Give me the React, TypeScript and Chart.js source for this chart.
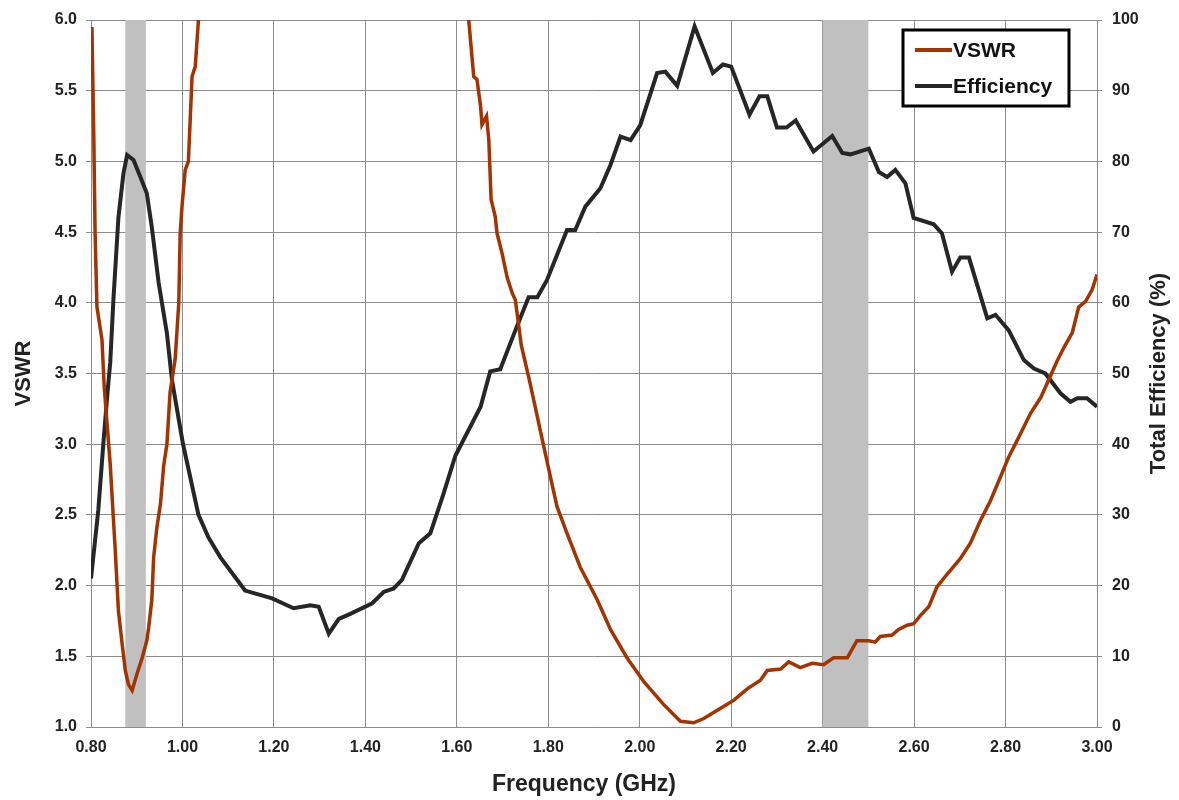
import React, { useEffect, useRef } from "react";
import { Chart, registerables } from "chart.js";

Chart.register(...registerables);

// ---- Data ----
const X_TICKS = [0.8, 1.0, 1.2, 1.4, 1.6, 1.8, 2.0, 2.2, 2.4, 2.6, 2.8, 3.0];
const VSWR_TICKS = [1.0, 1.5, 2.0, 2.5, 3.0, 3.5, 4.0, 4.5, 5.0, 5.5, 6.0];
const EFF_TICKS = [0, 10, 20, 30, 40, 50, 60, 70, 80, 90, 100];

const BAND_START = [0.875, 2.4];
const BAND_END = [0.92, 2.5];

const SERIES_LABELS = ["VSWR", "Efficiency"];

const VSWR_FREQ = [
  0.802, 0.806, 0.809, 0.813, 0.824, 0.829, 0.842, 0.853, 0.86, 0.868, 0.875, 0.882, 0.89, 0.901, 0.912,
  0.922, 0.926, 0.933, 0.937, 0.944, 0.952, 0.959, 0.966, 0.973, 0.984, 0.992, 0.995, 0.999, 1.006, 1.013,
  1.021, 1.028, 1.035, 1.045,
  1.3,
  1.615, 1.626, 1.637, 1.644, 1.652, 1.655, 1.665, 1.67, 1.675, 1.684, 1.688, 1.699, 1.71, 1.721, 1.728,
  1.741, 1.761, 1.789, 1.804, 1.819, 1.841, 1.87, 1.907, 1.936, 1.972, 2.009, 2.052, 2.089, 2.118, 2.14,
  2.176, 2.206, 2.235, 2.264, 2.279, 2.308, 2.326, 2.351, 2.377, 2.402, 2.424, 2.454, 2.475, 2.501, 2.515,
  2.526, 2.552, 2.566, 2.585, 2.599, 2.614, 2.632, 2.65, 2.672, 2.701, 2.723, 2.745, 2.767, 2.789, 2.807,
  2.829, 2.855, 2.877, 2.898, 2.913, 2.927, 2.946, 2.96, 2.975, 2.989, 3.0,
];
const VSWR_VALUES = [
  5.95, 5.2, 4.49, 3.97, 3.74, 3.4, 2.86, 2.25, 1.82, 1.59, 1.4, 1.3, 1.26, 1.38, 1.49,
  1.61, 1.7, 1.9, 2.2, 2.41, 2.58, 2.85, 3.0, 3.37, 3.6, 4.0, 4.49, 4.68, 4.94, 5.0,
  5.6, 5.67, 6.0, 6.6,
  null,
  6.6, 6.0, 5.6, 5.58, 5.39, 5.26, 5.32, 5.15, 4.73, 4.61, 4.49, 4.35, 4.18, 4.07, 4.02,
  3.7, 3.42, 3.0, 2.78, 2.56, 2.37, 2.13, 1.9, 1.69, 1.49, 1.32, 1.16, 1.04, 1.03, 1.06,
  1.13, 1.19, 1.27, 1.33, 1.4, 1.41, 1.46, 1.42, 1.45, 1.44, 1.49, 1.49, 1.61, 1.61, 1.6,
  1.64, 1.65, 1.69, 1.72, 1.73, 1.79, 1.85, 1.99, 2.08, 2.19, 2.3, 2.46, 2.6, 2.77, 2.91,
  3.05, 3.22, 3.33, 3.48, 3.59, 3.68, 3.79, 3.97, 4.01, 4.09, 4.2,
];

const EFF_FREQ = [
  0.8, 0.816, 0.827, 0.836, 0.842, 0.849, 0.86, 0.871, 0.879, 0.893, 0.908, 0.922, 0.933, 0.948, 0.966,
  0.977, 1.001, 1.035, 1.057, 1.083, 1.137, 1.196, 1.243, 1.28, 1.298, 1.32, 1.342, 1.367, 1.415, 1.44,
  1.462, 1.48, 1.517, 1.542, 1.571, 1.597, 1.652, 1.673, 1.695, 1.728, 1.757, 1.776, 1.797, 1.841, 1.859,
  1.881, 1.914, 1.936, 1.958, 1.98, 2.001, 2.038, 2.056, 2.082, 2.12, 2.16, 2.182, 2.2, 2.24, 2.262,
  2.279, 2.3, 2.321, 2.341, 2.38, 2.421, 2.443, 2.461, 2.501, 2.523, 2.541, 2.559, 2.581, 2.599, 2.643,
  2.661, 2.683, 2.701, 2.72, 2.76, 2.778, 2.807, 2.84, 2.862, 2.887, 2.92, 2.942, 2.957, 2.978, 3.0,
];
const EFF_VALUES = [
  21.0, 30.7, 40.1, 47.2, 51.5, 60.4, 72.1, 78.3, 80.9, 80.2, 77.8, 75.5, 70.7, 62.8, 55.7,
  49.1, 40.1, 30.0, 26.8, 24.0, 19.3, 18.2, 16.8, 17.2, 17.0, 13.2, 15.3, 16.0, 17.5, 19.1,
  19.6, 20.8, 26.0, 27.4, 33.0, 38.4, 45.3, 50.3, 50.6, 56.1, 60.8, 60.8, 63.2, 70.3, 70.3,
  73.6, 76.2, 79.5, 83.5, 83.0, 85.1, 92.5, 92.7, 90.7, 99.1, 92.5, 93.7, 93.4, 86.6, 89.2,
  89.2, 84.8, 84.8, 85.8, 81.4, 83.6, 81.2, 81.0, 81.8, 78.5, 77.8, 78.8, 76.9, 72.0, 71.1,
  69.8, 64.4, 66.4, 66.4, 57.8, 58.3, 56.1, 51.9, 50.7, 50.0, 47.2, 46.0, 46.5, 46.5, 45.3,
];

// ---- Styles ----
const FONT = "'Liberation Sans', Arial, sans-serif";
const VSWR_COLOR = "#a33300";
const EFF_COLOR = "#262626";
const GRID_COLOR = "#8c8c8c";
const TEXT_COLOR = "#222222";
const BAND_COLOR = "#c0c0c0";

const bandPlugin = {
  id: "bands",
  beforeDatasetsDraw(chart: any) {
    const { ctx, chartArea, scales } = chart;
    const x = scales.x;
    ctx.save();
    ctx.fillStyle = BAND_COLOR;
    BAND_START.forEach((s, i) => {
      const x0 = x.getPixelForValue(s);
      const x1 = x.getPixelForValue(BAND_END[i]);
      ctx.fillRect(x0, chartArea.top, x1 - x0, chartArea.bottom - chartArea.top);
    });
    ctx.restore();
  },
};

const titlesPlugin = {
  id: "axisTitles",
  afterDraw(chart: any) {
    const { ctx, chartArea } = chart;
    const midY = (chartArea.top + chartArea.bottom) / 2;
    ctx.save();
    ctx.fillStyle = TEXT_COLOR;
    ctx.font = `bold 22px ${FONT}`;
    ctx.textAlign = "center";
    ctx.textBaseline = "middle";
    // left title
    ctx.save();
    ctx.translate(24, midY);
    ctx.rotate(-Math.PI / 2);
    ctx.fillText("VSWR", 0, 0);
    ctx.restore();
    // right title
    ctx.save();
    ctx.translate(chartArea.right + 62, midY);
    ctx.rotate(-Math.PI / 2);
    ctx.fillText("Total Efficiency (%)", 0, 0);
    ctx.restore();
    // bottom title
    ctx.font = `bold 23px ${FONT}`;
    ctx.fillText("Frequency (GHz)", (chartArea.left + chartArea.right) / 2 - 10, chartArea.bottom + 58);
    ctx.restore();
  },
};

const legendPlugin = {
  id: "boxLegend",
  afterDraw(chart: any) {
    const { ctx, chartArea } = chart;
    const w = 166;
    const h = 76;
    const left = chartArea.right - 28 - w;
    const top = chartArea.top + 10;
    ctx.save();
    ctx.fillStyle = "#ffffff";
    ctx.fillRect(left, top, w, h);
    ctx.lineWidth = 3;
    ctx.strokeStyle = "#000000";
    ctx.strokeRect(left, top, w, h);
    chart.data.datasets.forEach((ds: any, i: number) => {
      const y = top + 20 + i * 36;
      ctx.strokeStyle = ds.borderColor;
      ctx.lineWidth = 4;
      ctx.beginPath();
      ctx.moveTo(left + 12, y);
      ctx.lineTo(left + 49, y);
      ctx.stroke();
      ctx.fillStyle = "#111111";
      ctx.font = `bold 21px ${FONT}`;
      ctx.textAlign = "left";
      ctx.textBaseline = "middle";
      ctx.fillText(ds.label, left + 50, y + 1);
    });
    ctx.restore();
  },
};

export default function App() {
  const canvasRef = useRef<HTMLCanvasElement | null>(null);

  useEffect(() => {
    if (!canvasRef.current) return;
    Chart.defaults.font.family = FONT;
    const vswrData = VSWR_FREQ.map((f, i) => ({ x: f, y: VSWR_VALUES[i] }));
    const effData = EFF_FREQ.map((f, i) => ({ x: f, y: EFF_VALUES[i] }));

    const tickFont = { size: 16, weight: "bold" as const, family: FONT };

    const chart = new Chart(canvasRef.current, {
      type: "line",
      data: {
        datasets: [
          {
            label: SERIES_LABELS[0],
            data: vswrData,
            yAxisID: "y",
            borderColor: VSWR_COLOR,
            borderWidth: 3.5,
            pointRadius: 0,
            tension: 0,
            spanGaps: false,
            clip: 0,
          },
          {
            label: SERIES_LABELS[1],
            data: effData,
            yAxisID: "y1",
            borderColor: EFF_COLOR,
            borderWidth: 4,
            pointRadius: 0,
            tension: 0,
            clip: 0,
          },
        ],
      },
      options: {
        animation: false,
        responsive: false,
        maintainAspectRatio: false,
        layout: { padding: { top: 20, left: 0, right: 0, bottom: 0 } },
        plugins: {
          legend: { display: false },
          tooltip: { enabled: false },
          title: { display: false },
        },
        scales: {
          x: {
            type: "linear",
            min: 0.8,
            max: 3.0,
            afterBuildTicks: (s: any) => {
              s.ticks = X_TICKS.map((v) => ({ value: v }));
            },
            afterFit: (s: any) => {
              s.height = 73;
            },
            ticks: {
              callback: (v: any) => Number(v).toFixed(2),
              font: tickFont,
              color: TEXT_COLOR,
              padding: 11,
              maxRotation: 0,
              autoSkip: false,
            },
            grid: { color: GRID_COLOR, lineWidth: 1, drawTicks: false },
            border: { display: true, color: GRID_COLOR, width: 1 },
          },
          y: {
            type: "linear",
            position: "left",
            min: 1,
            max: 6,
            afterBuildTicks: (s: any) => {
              s.ticks = VSWR_TICKS.map((v) => ({ value: v }));
            },
            afterFit: (s: any) => {
              s.width = 91;
            },
            ticks: {
              callback: (v: any) => Number(v).toFixed(1),
              font: tickFont,
              color: TEXT_COLOR,
              padding: 9,
              autoSkip: false,
            },
            grid: { color: GRID_COLOR, lineWidth: 1, drawTicks: true, tickLength: 5 },
            border: { display: true, color: GRID_COLOR, width: 1 },
          },
          y1: {
            type: "linear",
            position: "right",
            min: 0,
            max: 100,
            afterBuildTicks: (s: any) => {
              s.ticks = EFF_TICKS.map((v) => ({ value: v }));
            },
            afterFit: (s: any) => {
              s.width = 82;
            },
            ticks: {
              callback: (v: any) => String(v),
              font: tickFont,
              color: TEXT_COLOR,
              padding: 10,
              autoSkip: false,
            },
            grid: { drawOnChartArea: false, color: GRID_COLOR, drawTicks: true, tickLength: 5 },
            border: { display: true, color: GRID_COLOR, width: 1 },
          },
        },
      },
      plugins: [bandPlugin, titlesPlugin, legendPlugin],
    });
    return () => chart.destroy();
  }, []);

  return (
    <div style={{ position: "absolute", left: 0, top: 0, width: 1179, height: 800, background: "#ffffff" }}>
      <canvas ref={canvasRef} width={1179} height={800} style={{ display: "block" }} />
    </div>
  );
}
